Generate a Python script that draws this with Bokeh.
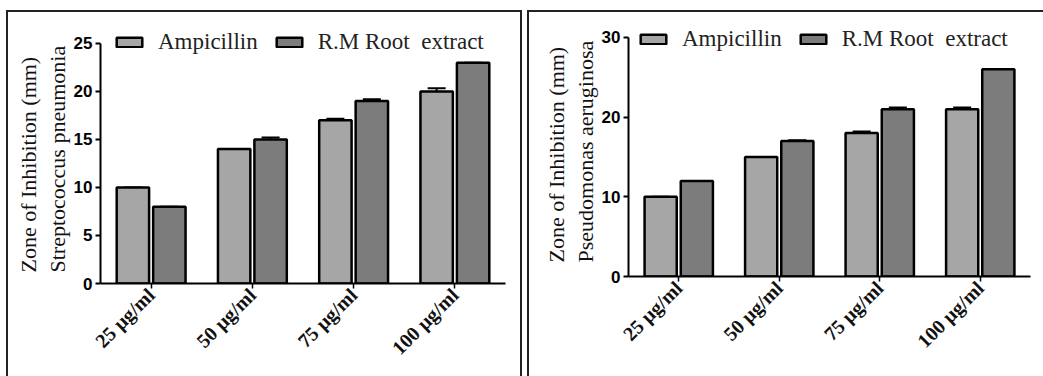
from bokeh.plotting import figure
from bokeh.models import (ColumnDataSource, FactorRange, Range1d, Whisker, TeeHead, Legend,
                          LegendItem, FixedTicker, Title)
from bokeh.transform import dodge
from bokeh.layouts import row, column
from bokeh.embed import file_html
from bokeh.resources import INLINE

concentrations = ["25 µg/ml", "50 µg/ml", "75 µg/ml", "100 µg/ml"]
series_names = ["Ampicillin", "R.M Root  extract"]
y_title = "Zone of Inhibition (mm)"

strep_ampicillin = [10, 14, 17, 20]
strep_ampicillin_err = [0.0, 0.0, 0.15, 0.35]
strep_root = [8, 15, 19, 23]
strep_root_err = [0.0, 0.2, 0.2, 0.0]
strep_ticks = [0, 5, 10, 15, 20, 25]

pseudo_ampicillin = [10, 15, 18, 21]
pseudo_ampicillin_err = [0.0, 0.0, 0.2, 0.2]
pseudo_root = [12, 17, 21, 26]
pseudo_root_err = [0.0, 0.1, 0.2, 0.0]
pseudo_ticks = [0, 10, 20, 30]

SERIF = "Liberation Serif"
SANS = "Liberation Sans"
OFF = 0.18
BW = 0.32


def make_panel(amp, amp_err, root, root_err, ticks, y_end, organism, width, height,
               b_left, b_top, b_right, b_bottom, leg_loc, margin, title_offset):
    src = ColumnDataSource(dict(
        conc=concentrations,
        amp=amp, amp_hi=[v + e for v, e in zip(amp, amp_err)],
        root=root, root_hi=[v + e for v, e in zip(root, root_err)],
    ))
    p = figure(x_range=FactorRange(*concentrations), y_range=Range1d(0, y_end),
               width=width, height=height, output_backend="svg", toolbar_location=None,
               min_border_left=b_left, min_border_top=b_top, min_border_right=b_right,
               min_border_bottom=b_bottom, margin=margin)
    p.styles = {"box-shadow": "0 0 0 2px #222222"}
    p.grid.visible = False
    p.outline_line_color = None
    p.background_fill_color = "white"
    p.border_fill_color = "white"

    r1 = p.vbar(x=dodge("conc", -OFF, range=p.x_range), top="amp", width=BW, source=src,
                fill_color="#a6a6a6", line_color="black", line_width=2.5)
    r2 = p.vbar(x=dodge("conc", OFF, range=p.x_range), top="root", width=BW, source=src,
                fill_color="#7c7c7c", line_color="black", line_width=2.5)

    for col, off in (("amp", -OFF), ("root", OFF)):
        w = Whisker(source=src, base=dodge("conc", off, range=p.x_range), upper=col + "_hi",
                    lower=col, line_color="black", line_width=2,
                    upper_head=TeeHead(size=18, line_width=2, line_color="black"),
                    lower_head=None)
        p.add_layout(w)

    yax = p.yaxis[0]
    yax.ticker = FixedTicker(ticks=ticks)
    yax.bounds = (ticks[0], ticks[-1])
    yax.axis_line_width = 2
    yax.major_tick_line_width = 2
    yax.major_tick_out = 5
    yax.major_tick_in = 0
    yax.minor_tick_line_color = None
    yax.major_label_text_font = SANS
    yax.major_label_text_font_style = "bold"
    yax.major_label_text_font_size = "17px"
    yax.major_label_text_color = "black"
    yax.major_label_standoff = 3
    yax.axis_label = None

    for txt in (organism, y_title):
        t = Title(text=txt, align="left", offset=title_offset, standoff=2,
                  text_font=SERIF, text_font_style="normal", text_font_size="22px",
                  text_color="#111111")
        p.add_layout(t, "left")

    xax = p.xaxis[0]
    xax.axis_line_width = 2
    xax.major_tick_line_width = 1.5
    xax.major_tick_out = 5
    xax.major_tick_in = 0
    xax.major_label_orientation = 0.785
    xax.major_label_text_font = SERIF
    xax.major_label_text_font_style = "bold"
    xax.major_label_text_font_size = "20px"
    xax.major_label_text_color = "#111111"
    xax.major_label_standoff = 3

    legend = Legend(items=[LegendItem(label=series_names[0], renderers=[r1]),
                           LegendItem(label=series_names[1], renderers=[r2])],
                    orientation="horizontal", location=leg_loc,
                    padding=0, margin=0, spacing=15, label_standoff=13,
                    glyph_width=32, glyph_height=12,
                    label_text_font=SERIF, label_text_font_size="23px",
                    label_text_color="#222222",
                    border_line_color=None, background_fill_alpha=0)
    p.add_layout(legend, "center")
    return p


left = make_panel(strep_ampicillin, strep_ampicillin_err, strep_root, strep_root_err,
                  strep_ticks, 26.77, "Streptococcus pneumonia", 512, 364,
                  92, 14, 15, 93, (13, 228), (12, 0, 0, 8), 11)
right = make_panel(pseudo_ampicillin, pseudo_ampicillin_err, pseudo_root, pseudo_root_err,
                   pseudo_ticks, 31.63, "Pseudomonas aeruginosa", 514, 364,
                   99, 12, 13, 100, (9, 224), (12, 0, 0, 9), 14)

layout = row(column(left), column(right), spacing=0)
open("out.html", "w").write(file_html(layout, INLINE))
